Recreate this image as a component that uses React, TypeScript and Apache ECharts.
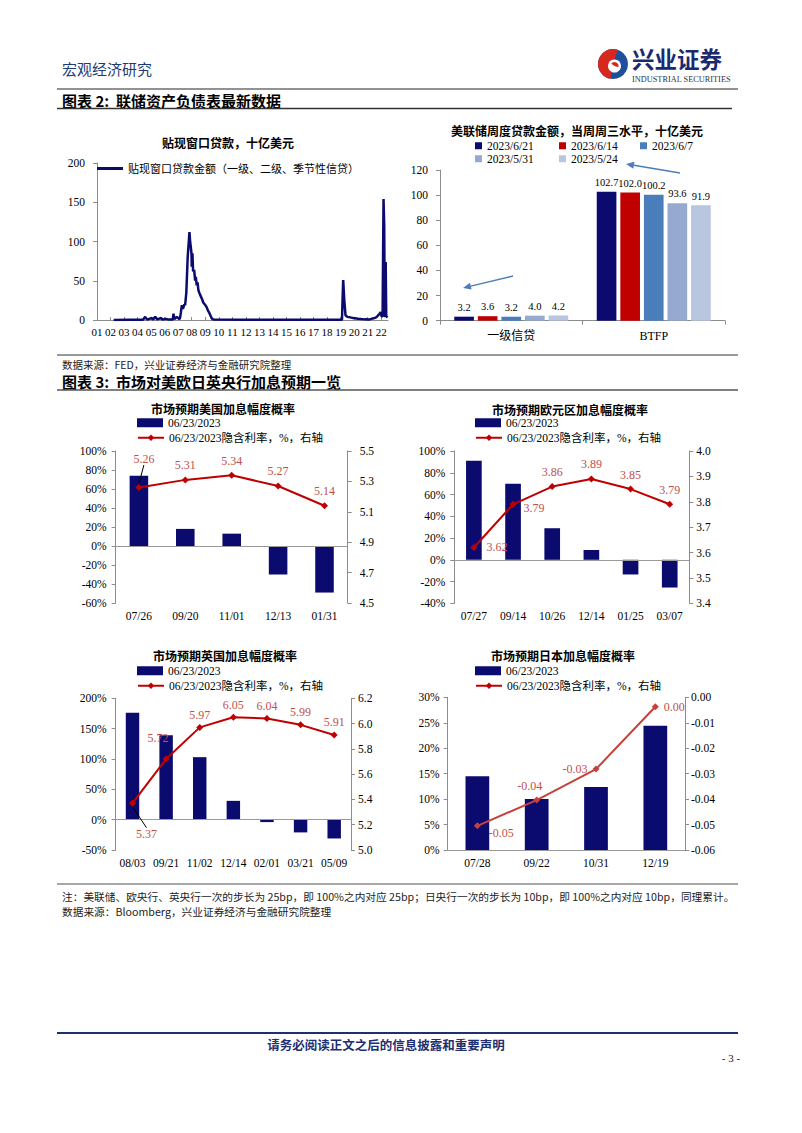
import React, { useEffect, useRef } from 'react';
import * as echarts from 'echarts';

const SERIF = "'Liberation Serif','Times New Roman','Noto Sans CJK SC',serif";
const CJK = "'Noto Sans CJK SC','Liberation Serif',sans-serif";
const NAVY = '#0b0b6f';
const RED = '#c00000';
const JP_RED = '#c8403a';
const LABEL_RED = '#c0504d';
const AXIS_GRAY = '#8c8c8c';

// ---------- Chart 1: discount window loans (bn USD) ----------
const dwLegend = '贴现窗口贷款金额（一级、二级、季节性信贷）';
const dwYears = [
  2002.23, 2003.5, 2004.4, 2004.56, 2004.7, 2005.05, 2005.15, 2005.3, 2005.45, 2005.74,
  2005.85, 2006.04, 2006.3, 2006.6, 2006.65, 2006.72, 2006.9, 2007.1, 2007.14, 2007.2,
  2007.27, 2007.35, 2007.45, 2007.51, 2007.6, 2007.7, 2007.83, 2007.88, 2007.93, 2007.98,
  2008.0, 2008.05, 2008.1, 2008.18, 2008.25, 2008.3, 2008.37, 2008.43, 2008.49, 2008.55,
  2008.62, 2008.75, 2008.86, 2009.0, 2009.11, 2009.2, 2009.3, 2009.4, 2009.48, 2009.6,
  2012.0, 2016.0, 2019.1, 2019.15, 2019.19, 2019.27, 2019.36, 2019.5, 2019.81, 2020.3,
  2020.79, 2021.1, 2021.38, 2021.6, 2021.72, 2021.89, 2021.95, 2022.02, 2022.1, 2022.17,
  2022.22, 2022.26, 2022.3, 2022.33, 2022.37, 2022.45,
];
const dwValues = [
  0.1, 0.2, 0.3, 4, 0.5, 2.5, 0.5, 4, 0.8, 2.5,
  0.5, 1.5, 0.5, 0.6, 8, 1, 4, 1, 3, 10,
  19, 14, 20, 19, 35, 80, 112, 100, 93, 85,
  68, 85, 62, 64, 50, 55, 44, 48, 38, 35,
  32, 27, 22, 19, 16, 12, 9, 5, 2, 0.5,
  0.3, 0.2, 0.3, 30, 51, 25, 6, 4, 3, 1.5,
  0.8, 0.5, 2, 3, 5, 8, 10, 5, 4, 154,
  120, 6, 4, 74, 5, 3,
];

// ---------- Chart 2: weekly Fed lending (bn USD) ----------
const loanCats = ['一级信贷', 'BTFP'];
const weekDates = ['2023/6/21', '2023/6/14', '2023/6/7', '2023/5/31', '2023/5/24'];
const primaryCredit = [3.2, 3.6, 3.2, 4.0, 4.2];
const btfpLoans = [102.7, 102.0, 100.2, 93.6, 91.9];

// ---------- Rate-hike expectation charts ----------
const barName = '06/23/2023';
const lineName = '06/23/2023隐含利率，%，右轴';

const usDates = ['07/26', '09/20', '11/01', '12/13', '01/31'];
const usProb = [74, 18, 13, -30, -49];
const usRate = [5.26, 5.31, 5.34, 5.27, 5.14];

const euDates = ['07/27', '09/14', '10/26', '12/14', '01/25', '03/07'];
const euProb = [91, 70, 29, 9, -13.5, -25.5];
const euRate = [3.62, 3.79, 3.86, 3.89, 3.85, 3.79];

const ukDates = ['08/03', '09/21', '11/02', '12/14', '02/01', '03/21', '05/09'];
const ukProb = [176, 139, 103, 31, -4, -21, -31];
const ukRate = [5.37, 5.72, 5.97, 6.05, 6.04, 5.99, 5.91];

const jpDates = ['07/28', '09/22', '10/31', '12/19'];
const jpProb = [14.5, 10, 12.4, 24.4];
const jpRate = [-0.0505, -0.0404, -0.0282, -0.0037];

// ---------- styles (kept apart from data) ----------
const weekColors = [NAVY, RED, '#4a7ebb', '#95a9d1', '#b9c6e0'];
const weekLegendPos = [[475, 140], [559, 140], [640, 140], [475, 153], [559, 153]];

type Tweak = { pos?: string; dx?: number; dy?: number; guide?: boolean } | undefined;
const usTweaks: Tweak[] = [{ dx: 5, dy: -14, guide: true }];
const euTweaks: Tweak[] = [{ pos: 'right', dx: 4 }, { pos: 'right', dx: 2, dy: 4 }];
const ukTweaks: Tweak[] = [{ pos: 'bottom', dx: 14, dy: 18, guide: true }, { dx: -8, dy: -8 }];
const jpTweaks: Tweak[] = [{ pos: 'right', dx: 3, dy: 7 }, { dx: -7 }, { pos: 'left' }, { pos: 'right', dx: 0 }];

const fmtRate2 = (v: number) => (Math.abs(v) < 0.005 ? '0.00' : v.toFixed(2));

function txt(text: string, x: number, y: number, size: number, opts: any = {}) {
  const weight = opts.weight || 'normal';
  const family = opts.family || CJK;
  return {
    type: 'text',
    x,
    y,
    silent: true,
    style: {
      text,
      font: `${weight} ${size}px ${family}`,
      fill: opts.color || '#000',
      textAlign: opts.align || 'left',
      textVerticalAlign: 'middle',
      align: opts.align || 'left',
      verticalAlign: 'middle',
    },
  };
}

function hline(x1: number, x2: number, y: number, color: string, width: number) {
  return { type: 'line', silent: true, shape: { x1, y1: y, x2, y2: y }, style: { stroke: color, lineWidth: width } };
}

function arrow(x1: number, y1: number, x2: number, y2: number, color: string) {
  const dx = x2 - x1;
  const dy = y2 - y1;
  const L = Math.hypot(dx, dy);
  const ux = dx / L;
  const uy = dy / L;
  const bx = x2 - 8 * ux;
  const by = y2 - 8 * uy;
  const nx = -uy * 3.5;
  const ny = ux * 3.5;
  return [
    { type: 'line', silent: true, shape: { x1, y1, x2: bx, y2: by }, style: { stroke: color, lineWidth: 1.5 } },
    { type: 'polygon', silent: true, shape: { points: [[x2, y2], [bx + nx, by + ny], [bx - nx, by - ny]] }, style: { fill: color } },
  ];
}

function valAxis(grid: number, min: number, max: number, interval: number, fmt: any, position: string, margin: number) {
  return {
    type: 'value',
    gridIndex: grid,
    min,
    max,
    interval,
    position,
    axisLine: { show: true, onZero: false, lineStyle: { color: AXIS_GRAY, width: 1 } },
    axisTick: { show: true, inside: false, length: 4, lineStyle: { color: AXIS_GRAY } },
    splitLine: { show: false },
    axisLabel: { formatter: fmt, color: '#000', fontSize: 11.5, fontFamily: SERIF, margin },
  };
}

function catAxis(grid: number, data: string[], margin: number) {
  return {
    type: 'category',
    gridIndex: grid,
    data,
    position: 'bottom',
    axisLine: { show: false, onZero: false },
    axisTick: { show: false },
    splitLine: { show: false },
    axisLabel: { color: '#000', fontSize: 11.5, fontFamily: SERIF, margin, interval: 0 },
  };
}

function rateSeries(xIdx: number, yLeft: number, yRight: number, prob: number[], rate: number[], tweaks: Tweak[], lineColor: string, distance: number, fmt: any) {
  return [
    {
      type: 'bar',
      name: barName,
      xAxisIndex: xIdx,
      yAxisIndex: yLeft,
      data: prob,
      barWidth: '40%',
      itemStyle: { color: NAVY },
      markLine: {
        silent: true,
        symbol: ['none', 'none'],
        label: { show: false },
        lineStyle: { color: '#9a9a9a', width: 1, type: 'solid' },
        data: [{ yAxis: 0 }],
      },
    },
    {
      type: 'line',
      name: lineName,
      xAxisIndex: xIdx,
      yAxisIndex: yRight,
      data: rate.map((v, i) => {
        const t = tweaks[i];
        const item: any = { value: v };
        if (t && t.pos) item.label = { position: t.pos };
        if (t && t.guide) item.labelLine = { show: true, lineStyle: { color: '#000', width: 1 } };
        return item;
      }),
      symbol: 'diamond',
      symbolSize: 7,
      lineStyle: { color: lineColor, width: 2 },
      itemStyle: { color: lineColor },
      label: {
        show: true,
        position: 'top',
        distance,
        color: LABEL_RED,
        fontSize: 12,
        fontFamily: SERIF,
        formatter: (p: any) => fmt(p.value),
      },
      labelLayout: (p: any) => {
        const t = tweaks[p.dataIndex];
        return t ? { dx: t.dx || 0, dy: t.dy || 0 } : {};
      },
      z: 5,
    },
  ];
}

function buildOption() {
  const grids = [
    { left: 97, top: 163, width: 291, height: 157 },
    { left: 440, top: 170, width: 285, height: 150.7 },
    { left: 115.7, top: 451, width: 232, height: 152 },
    { left: 454.3, top: 451, width: 235, height: 152.3 },
    { left: 115.7, top: 698.3, width: 235.3, height: 151.7 },
    { left: 447.7, top: 697.3, width: 237.3, height: 152.7 },
  ].map((g) => ({ ...g, containLabel: false, outerBoundsMode: 'none' }));

  const xAxis: any[] = [
    {
      type: 'value',
      gridIndex: 0,
      min: 2001,
      max: 2022.5,
      interval: 1,
      axisLine: { show: true, lineStyle: { color: AXIS_GRAY } },
      axisTick: { show: true, inside: true, length: 3, lineStyle: { color: AXIS_GRAY } },
      splitLine: { show: false },
      axisLabel: {
        color: '#000',
        fontSize: 11,
        fontFamily: SERIF,
        margin: 6,
        showMaxLabel: false,
        formatter: (v: number) => (Number.isInteger(v) ? String(v % 100).padStart(2, '0') : ''),
      },
    },
    {
      type: 'category',
      gridIndex: 1,
      data: loanCats,
      axisLine: { show: true, lineStyle: { color: AXIS_GRAY } },
      axisTick: { show: true, length: 4, lineStyle: { color: AXIS_GRAY } },
      splitLine: { show: false },
      axisLabel: { color: '#000', fontSize: 12, fontFamily: SERIF, margin: 9 },
    },
    catAxis(2, usDates, 7),
    catAxis(3, euDates, 7),
    catAxis(4, ukDates, 7),
    catAxis(5, jpDates, 7),
  ];

  const yAxis: any[] = [
    valAxis(0, 0, 200, 50, '{value}', 'left', 12),
    valAxis(1, 0, 120, 20, '{value}', 'left', 12),
    valAxis(2, -60, 100, 20, '{value}%', 'left', 9),
    valAxis(2, 4.5, 5.5, 0.2, (v: number) => v.toFixed(1), 'right', 12),
    valAxis(3, -40, 100, 20, '{value}%', 'left', 9),
    valAxis(3, 3.4, 4.0, 0.1, (v: number) => v.toFixed(1), 'right', 7),
    valAxis(4, -50, 200, 50, '{value}%', 'left', 9),
    valAxis(4, 5.0, 6.2, 0.2, (v: number) => v.toFixed(1), 'right', 7),
    valAxis(5, 0, 30, 5, '{value}%', 'left', 8),
    valAxis(5, -0.06, 0, 0.01, (v: number) => (Math.abs(v) < 1e-9 ? '0.00' : v.toFixed(2)), 'right', 6),
  ];

  const series: any[] = [
    {
      type: 'line',
      name: dwLegend,
      xAxisIndex: 0,
      yAxisIndex: 0,
      data: dwYears.map((y, i) => [y, dwValues[i]]),
      showSymbol: false,
      symbol: 'none',
      lineStyle: { color: NAVY, width: 2.5 },
      itemStyle: { color: NAVY },
      z: 5,
    },
    ...weekDates.map((d, i) => ({
      type: 'bar',
      name: d,
      xAxisIndex: 1,
      yAxisIndex: 1,
      data: [primaryCredit[i], btfpLoans[i]],
      itemStyle: { color: weekColors[i] },
      barGap: '20%',
      barCategoryGap: '20%',
      label: {
        show: true,
        position: 'top',
        distance: 4,
        color: '#000',
        fontSize: 10.5,
        fontFamily: SERIF,
        formatter: (p: any) => Number(p.value).toFixed(1),
      },
    })),
    ...rateSeries(2, 2, 3, usProb, usRate, usTweaks, RED, 5, (v: number) => v.toFixed(2)),
    ...rateSeries(3, 4, 5, euProb, euRate, euTweaks, RED, 5, (v: number) => v.toFixed(2)),
    ...rateSeries(4, 6, 7, ukProb, ukRate, ukTweaks, RED, 3, (v: number) => v.toFixed(2)),
    ...rateSeries(5, 8, 9, jpProb, jpRate, jpTweaks, JP_RED, 5, fmtRate2),
  ];

  const legText = { color: '#000', fontSize: 11.5, fontFamily: SERIF };
  const legendBase = { padding: 0, selectedMode: false, textStyle: legText };
  const legend: any[] = [
    {
      ...legendBase,
      data: [dwLegend],
      left: 97,
      top: 163,
      icon: 'rect',
      itemWidth: 26,
      itemHeight: 3,
      textStyle: { ...legText, fontSize: 11 },
    },
    ...weekDates.map((d, i) => ({
      ...legendBase,
      data: [d],
      left: weekLegendPos[i][0],
      top: weekLegendPos[i][1],
      icon: 'rect',
      itemWidth: 7,
      itemHeight: 7,
    })),
  ];
  const legendSpots = [[137, 417], [475, 417], [137, 665], [475, 665]];
  legendSpots.forEach(([l, t]) => {
    legend.push({ ...legendBase, data: [barName], left: l, top: t, icon: 'rect', itemWidth: 26, itemHeight: 9 });
    legend.push({ ...legendBase, data: [lineName], left: l, top: t + 15, itemWidth: 26, itemHeight: 8 });
  });

  const graphic: any[] = [
    txt('宏观经济研究', 62, 68, 15, { color: '#1f3b73' }),
    // logo
    { type: 'circle', silent: true, shape: { cx: 613, cy: 64, r: 15 }, style: { fill: '#1f4e9c' } },
    { type: 'sector', silent: true, shape: { cx: 613, cy: 64, r0: 0, r: 15, startAngle: Math.PI * 0.55, endAngle: Math.PI * 1.6, clockwise: true }, style: { fill: '#d7281f' } },
    { type: 'circle', silent: true, shape: { cx: 614.5, cy: 66, r: 6.5 }, style: { fill: '#ffffff' } },
    { type: 'sector', silent: true, shape: { cx: 614.5, cy: 66, r0: 0, r: 4, startAngle: Math.PI * 1.2, endAngle: Math.PI * 2.1, clockwise: true }, style: { fill: '#d7281f' } },
    txt('兴业证券', 632, 58, 22.5, { weight: 'bold', color: '#1b2a6e' }),
    txt('INDUSTRIAL SECURITIES', 632, 79, 8.3, { family: SERIF, color: '#333' }),
    hline(57, 738, 89, '#6e6e6e', 1.5),
    txt('图表 2:  联储资产负债表最新数据', 62, 100, 15, { weight: 'bold' }),
    hline(57, 732, 108.5, '#333', 1.5),
    txt('贴现窗口贷款，十亿美元', 228, 142, 12, { weight: 'bold', align: 'center' }),
    txt('美联储周度贷款金额，当周周三水平，十亿美元', 577, 130, 12, { weight: 'bold', align: 'center' }),
    ...arrow(513, 276, 463, 288, '#4a7ebb'),
    ...arrow(680, 173, 626, 164, '#4a7ebb'),
    hline(57, 738, 355, '#333', 1),
    txt('数据来源：FED，兴业证券经济与金融研究院整理', 62, 364, 10.5, { color: '#222' }),
    txt('图表 3:  市场对美欧日英央行加息预期一览', 62, 381, 15, { weight: 'bold' }),
    hline(57, 738, 390, '#555', 1.5),
    txt('市场预期美国加息幅度概率', 223, 408, 12, { weight: 'bold', align: 'center' }),
    txt('市场预期欧元区加息幅度概率', 570, 409, 12, { weight: 'bold', align: 'center' }),
    txt('市场预期英国加息幅度概率', 225, 655, 12, { weight: 'bold', align: 'center' }),
    txt('市场预期日本加息幅度概率', 563, 655, 12, { weight: 'bold', align: 'center' }),
    hline(57, 738, 884, '#8a8a8a', 1.5),
    txt('注：美联储、欧央行、英央行一次的步长为 25bp，即 100%之内对应 25bp；日央行一次的步长为 10bp，即 100%之内对应 10bp，同理累计。', 62, 896, 10.7, { color: '#222' }),
    txt('数据来源：Bloomberg，兴业证券经济与金融研究院整理', 62, 911, 10.7, { color: '#222' }),
    hline(57, 738, 1033, '#1f2f6f', 2),
    txt('请务必阅读正文之后的信息披露和重要声明', 386, 1044, 12.5, { weight: 'bold', color: '#1f2f6f', align: 'center' }),
    txt('- 3 -', 731, 1058, 11, { family: SERIF, color: '#222', align: 'center' }),
  ];

  return {
    animation: false,
    backgroundColor: '#ffffff',
    textStyle: { fontFamily: SERIF },
    grid: grids,
    xAxis,
    yAxis,
    series,
    legend,
    graphic,
  };
}

export default function App() {
  const ref = useRef<HTMLDivElement>(null);
  useEffect(() => {
    const chart = echarts.init(ref.current as HTMLDivElement, null, { renderer: 'svg' });
    chart.setOption(buildOption() as any);
    return () => chart.dispose();
  }, []);
  return (
    <div
      ref={ref}
      style={{ position: 'absolute', left: 0, top: 0, width: 802, height: 1133, background: '#fff' }}
    />
  );
}
